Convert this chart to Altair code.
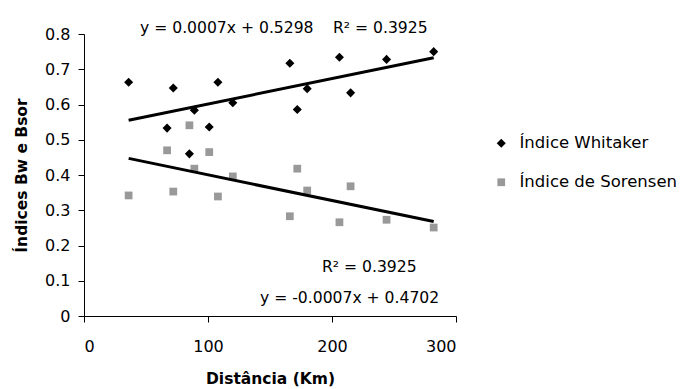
import altair as alt
import pandas as pd

# --- data ---
distancia = [36, 67, 72, 85, 89, 101, 108, 120, 166, 172, 180, 206, 215, 244, 282]
whitaker = [0.663, 0.533, 0.647, 0.460, 0.584, 0.536, 0.663, 0.605, 0.717, 0.586,
            0.645, 0.734, 0.633, 0.728, 0.750]
sorensen = [0.342, 0.470, 0.353, 0.541, 0.418, 0.465, 0.339, 0.396, 0.283, 0.418,
            0.356, 0.266, 0.368, 0.273, 0.251]
series = ["Índice Whitaker", "Índice de Sorensen"]
x_ticks = [0, 100, 200, 300]
y_ticks = [0, 0.1, 0.2, 0.3, 0.4, 0.5, 0.6, 0.7, 0.8]
eq_top = "y = 0.0007x + 0.5298"
eq_bottom = "y = -0.0007x + 0.4702"
r2_label = "R² = 0.3925"

rows = []
for xv, w, s in zip(distancia, whitaker, sorensen):
    rows.append({"x": xv, "y": w, "serie": series[0]})
    rows.append({"x": xv, "y": s, "serie": series[1]})
df = pd.DataFrame(rows)

FONT = "DejaVu Sans"

xscale = alt.Scale(domain=[0, 300], nice=False)
yscale = alt.Scale(domain=[0, 0.8], nice=False)
xaxis = alt.Axis(values=x_ticks, title="Distância (Km)", titlePadding=17,
                 labelOverlap=False)
yaxis = alt.Axis(values=y_ticks, title="Índices Bw e Bsor", format=".1~f",
                 titlePadding=15, labelOverlap=False)

legend = alt.Legend(title=None, orient="none", legendX=409, legendY=101,
                    rowPadding=22, labelOffset=10, padding=0)

base = alt.Chart(df)

points = base.mark_point(filled=True, opacity=1, strokeWidth=0).encode(
    x=alt.X("x:Q", scale=xscale, axis=xaxis),
    y=alt.Y("y:Q", scale=yscale, axis=yaxis),
    shape=alt.Shape("serie:N", scale=alt.Scale(domain=series, range=["diamond", "square"]),
                    legend=legend),
    color=alt.Color("serie:N", scale=alt.Scale(domain=series, range=["#000000", "#999999"]),
                    legend=legend),
    size=alt.Size("serie:N", scale=alt.Scale(domain=series, range=[82, 60]), legend=legend),
)

trend = base.transform_regression("x", "y", groupby=["serie"]).mark_line(
    color="black", strokeWidth=3
).encode(
    x=alt.X("x:Q", scale=xscale, axis=xaxis),
    y=alt.Y("y:Q", scale=yscale, axis=yaxis),
    detail="serie:N",
)

def label(txt, px, py):
    return alt.Chart(pd.DataFrame({"t": [txt]})).mark_text(
        align="left", baseline="alphabetic", font=FONT, fontSize=15.6, color="black"
    ).encode(text="t:N", x=alt.value(px), y=alt.value(py))

chart = alt.layer(
    points,
    trend,
    label(eq_top, 56, -1),
    label(r2_label, 249, -1),
    label(r2_label, 238, 238),
    label(eq_bottom, 176, 269),
).properties(
    width=372, height=282,
    autosize=alt.AutoSizeParams(type="none"),
    padding={"left": 84, "top": 34, "right": 224, "bottom": 73},
    background="white",
).configure_view(
    stroke=None
).configure_axis(
    grid=False,
    domainColor="black",
    tickColor="black",
    tickSize=6,
    labelColor="black",
    labelFont=FONT,
    labelFontSize=16,
    titleFont=FONT,
    titleFontSize=15.5,
    titleFontWeight="bold",
    titleColor="black",
).configure_axisX(
    labelPadding=16,
).configure_axisY(
    labelPadding=8,
).configure_legend(
    labelFont=FONT,
    labelFontSize=16.5,
    labelColor="black",
)

chart.save("out.html", embed_options={"renderer": "svg", "actions": False})
